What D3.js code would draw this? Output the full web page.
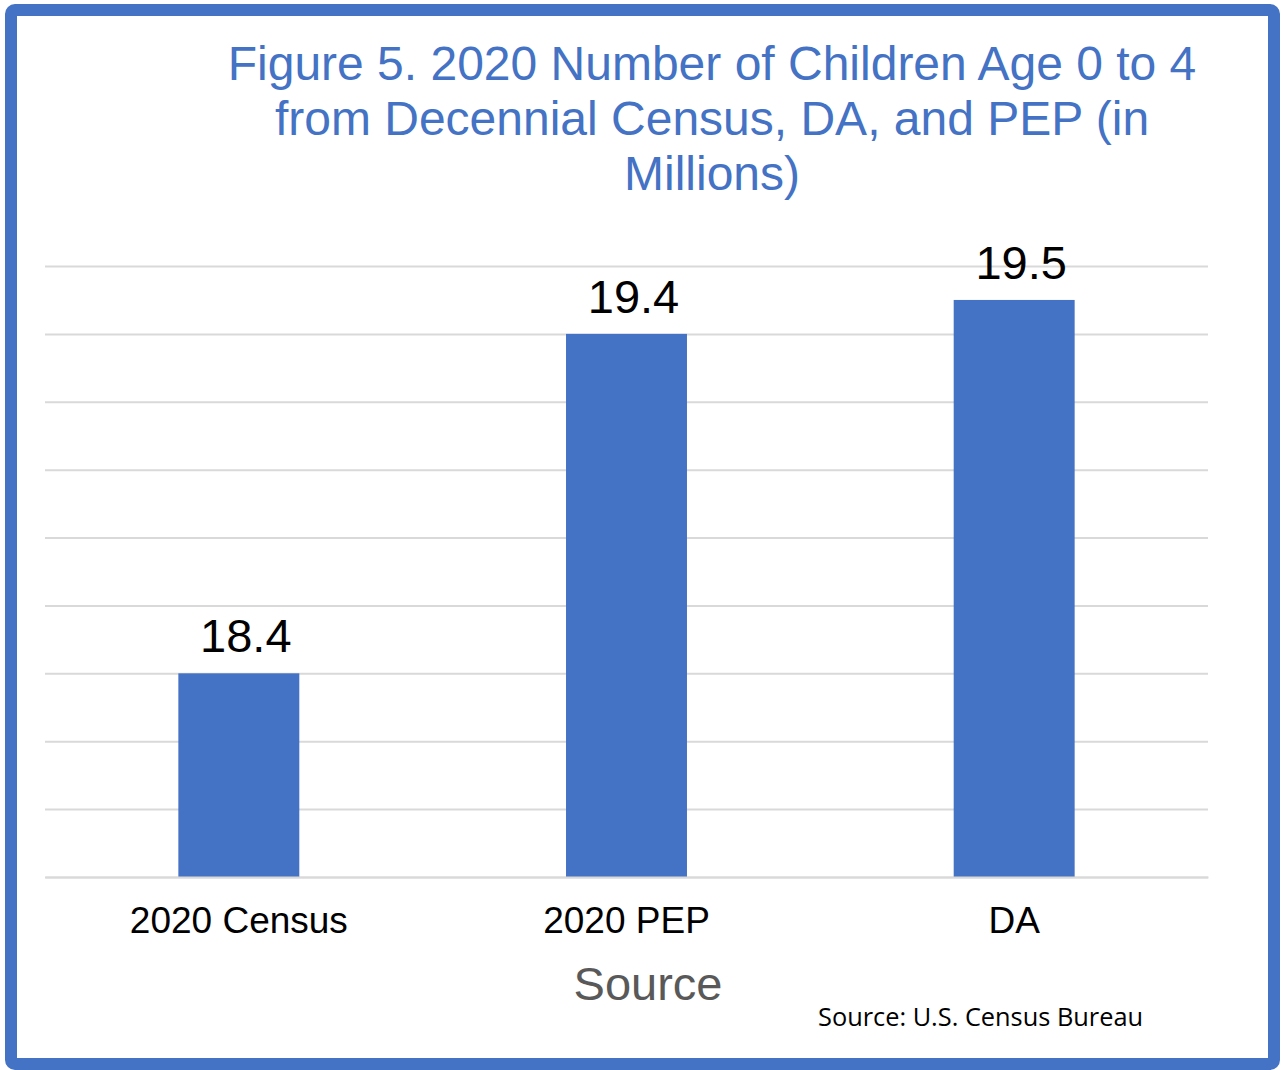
<!DOCTYPE html>
<html>
<head>
<meta charset="utf-8">
<script src="https://cdn.jsdelivr.net/npm/d3@7"></script>
<style>
  body { margin: 0; background: #fff; }
  text { font-family: "Liberation Sans", Arial, sans-serif; }
</style>
</head>
<body>
<div id="chart"></div>
<script>
let categories = ["2020 Census", "2020 PEP", "DA"];
let values = [18.4, 19.4, 19.5];
let titleLines = ["Figure 5. 2020 Number of Children Age 0 to 4",
                  "from Decennial  Census, DA, and PEP (in",
                  "Millions)"];
let yDomain = [17.8, 19.6];

let width = 1284, height = 1070;
let blue = "#4472C4";

let svg = d3.select("#chart")
    .append("svg")
    .attr("width", width)
    .attr("height", height);

// frame
svg.append("rect")
    .attr("x", 11).attr("y", 10)
    .attr("width", 1263).attr("height", 1054)
    .attr("rx", 4)
    .style("fill", "#fff")
    .style("stroke", blue)
    .style("stroke-width", 12);

let x = d3.scaleBand()
    .domain(categories)
    .range([45, 1208])
    .paddingInner(0.688)
    .paddingOuter(0.344);

let y = d3.scaleLinear()
    .domain(yDomain)
    .range([877, 266]);

// gridlines
svg.append("g")
    .attr("transform", "translate(45,0)")
    .call(d3.axisLeft(y).ticks(10).tickSize(-1163).tickFormat(""))
    .call(g => g.select(".domain").remove())
    .call(g => g.selectAll("line").style("stroke", "#d9d9d9").style("stroke-width", 2));

svg.selectAll(".bar")
    .data(values)
    .enter().append("rect")
    .attr("class", "bar")
    .attr("x", (d, i) => x(categories[i]))
    .attr("y", d => y(d))
    .attr("width", x.bandwidth())
    .attr("height", d => y(yDomain[0]) - y(d))
    .style("fill", blue);

svg.selectAll(".val")
    .data(values)
    .enter().append("text")
    .attr("class", "val")
    .attr("x", (d, i) => x(categories[i]) + x.bandwidth() / 2 + 7)
    .attr("y", d => y(d) - 21)
    .attr("text-anchor", "middle")
    .style("font-size", "47px")
    .style("fill", "#000")
    .text(d => d.toFixed(1));

// category axis
svg.append("g")
    .attr("transform", "translate(0,877)")
    .call(d3.axisBottom(x).tickSize(0).tickPadding(0))
    .call(g => g.select(".domain").style("stroke", "#d9d9d9").style("stroke-width", 2))
    .call(g => g.selectAll("text")
        .attr("dy", null)
        .attr("y", 56)
        .style("font-family", "'Liberation Sans', Arial, sans-serif")
        .style("font-size", "37px")
        .style("fill", "#000"));

svg.append("text")
    .attr("x", 648).attr("y", 1000)
    .attr("text-anchor", "middle")
    .style("font-size", "47px")
    .style("fill", "#595959")
    .text("Source");

svg.append("text")
    .attr("x", 818).attr("y", 1026)
    .attr("textLength", 325)
    .attr("lengthAdjust", "spacingAndGlyphs")
    .style("font-family", "'Open Sans', 'Noto Sans', sans-serif")
    .style("font-size", "25px")
    .style("fill", "#000")
    .text("Source: U.S. Census Bureau");

svg.append("g").selectAll("text")
    .data(titleLines)
    .enter().append("text")
    .attr("x", 712)
    .attr("y", (d, i) => 80 + i * 55)
    .attr("text-anchor", "middle")
    .style("font-size", "48px")
    .style("fill", blue)
    .text(d => d);
</script>
</body>
</html>
